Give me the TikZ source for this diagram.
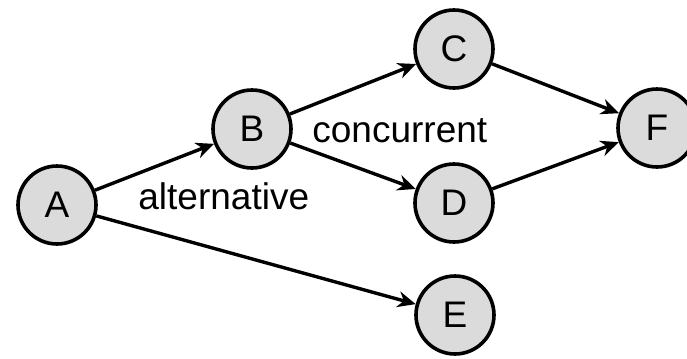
\documentclass[tikz,border=0pt]{standalone}
\usepackage{fontspec}
\setmainfont{Liberation Sans}
\usetikzlibrary{arrows.meta}
\tikzset{
  evt/.style={circle, draw=black, line width=1.8pt, fill=gray!28, minimum size=39pt, inner sep=0pt, font=\fontsize{18.5}{20}\selectfont},
  flw/.style={-{Stealth[length=9pt,width=8pt]}, line width=1.7pt},
  rel/.style={font=\fontsize{18.5}{20}\selectfont, inner sep=0pt},
}
\begin{document}
\begin{tikzpicture}[x=0.5pt, y=-0.5pt]
  \useasboundingbox (0,0) rectangle (687,359);
  \node[evt] (A) at (57,205) {A};
  \node[evt] (B) at (252,129) {B};
  \node[evt] (C) at (454,49) {C};
  \node[evt] (D) at (454,203) {D};
  \node[evt] (E) at (455,315) {E};
  \node[evt] (F) at (657,128) {F};
  % choice out of A, fork out of B, join at F
  \draw[flw] (A) -- (B);
  \draw[flw] (A) -- (E);
  \draw[flw] (B) -- (C);
  \draw[flw] (B) -- (D);
  \draw[flw] (C) -- (F);
  \draw[flw] (D) -- (F);
  \node[rel, anchor=base west] (alt) at (138,209) {alternative};
  \node[rel, anchor=base west] (conc) at (312,142) {concurrent};
\end{tikzpicture}
\end{document}
